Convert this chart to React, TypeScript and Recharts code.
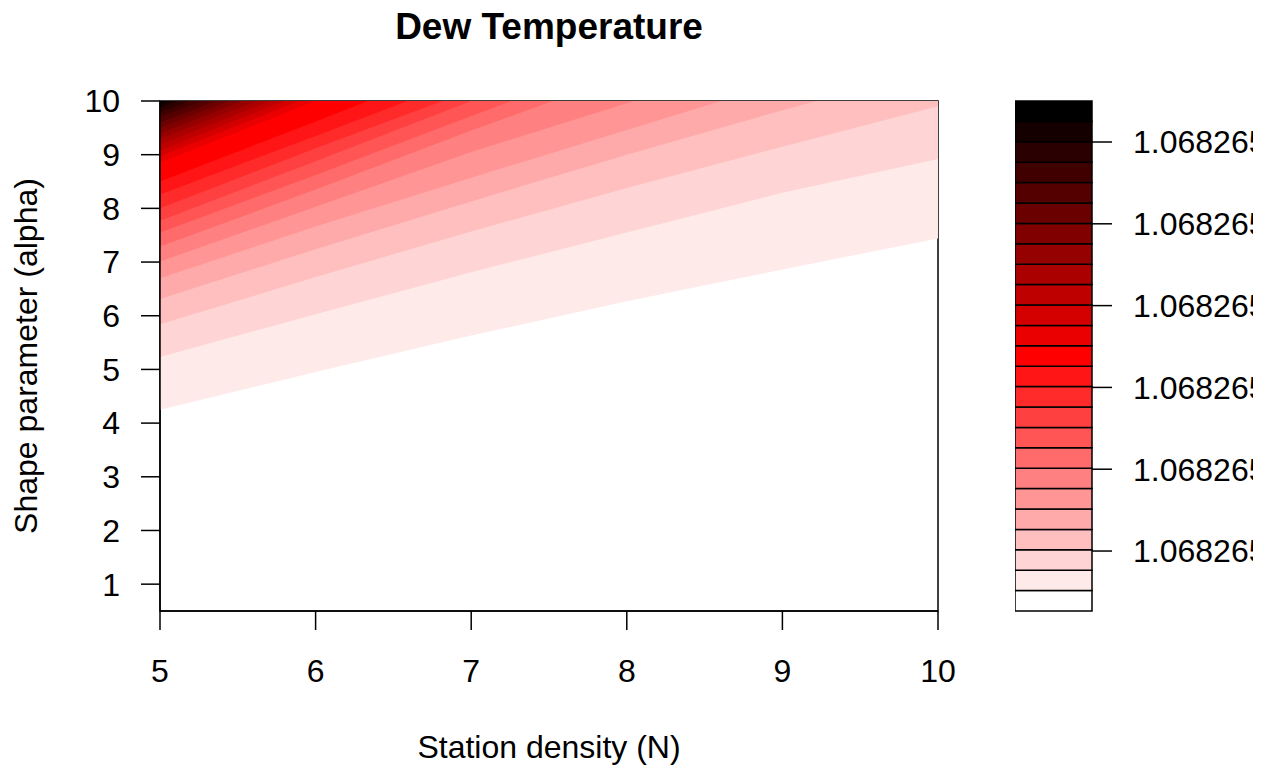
import { ComposedChart, Area, XAxis, YAxis, BarChart, Bar } from 'recharts';

const FONT = '"Liberation Sans", Arial, Helvetica, sans-serif';

// x: station density (N)
const stationDensity = [5, 6, 7, 8, 9, 10];
const xTicks = [5, 6, 7, 8, 9, 10];
const yTicks = [1, 2, 3, 4, 5, 6, 7, 8, 9, 10];

// lower edge (alpha) of filled levels 1..24 at each N; level 0 (white) is the background.
// values above 10 are where the contour has left the top of the plot
const levelEdges: (number | null)[][] = [
  [4.25, 4.95, 5.63, 6.27, 6.86, 7.44],
  [5.23, 6.03, 6.81, 7.55, 8.29, 8.92],
  [5.84, 6.72, 7.57, 8.38, 9.15, 9.9],
  [6.31, 7.24, 8.13, 9.0, 9.83, 10.6],
  [6.7, 7.66, 8.57, 9.46, 10.35, null],
  [7.01, 8.03, 9.05, 9.96, 10.9, null],
  [7.29, 8.35, 9.45, 10.5, null, null],
  [7.55, 8.62, 9.72, 10.8, null, null],
  [7.77, 8.88, 10.0, 11.1, null, null],
  [8.0, 9.12, 10.2, null, null, null],
  [8.26, 9.35, 10.45, null, null, null],
  [8.5, 9.62, 10.75, null, null, null],
  [8.85, 10.0, 11.1, null, null, null],
  [8.97, 10.12, null, null, null, null],
  [9.08, 10.23, null, null, null, null],
  [9.19, 10.33, null, null, null, null],
  [9.3, 10.43, null, null, null, null],
  [9.4, 10.53, null, null, null, null],
  [9.5, 10.63, null, null, null, null],
  [9.6, 10.71, null, null, null, null],
  [9.7, 10.8, null, null, null, null],
  [9.79, 10.9, null, null, null, null],
  [9.88, 11.0, null, null, null, null],
  [9.96, 11.1, null, null, null, null],
];

// white -> red -> black, 25 levels
const levelColors = [
  '#FFFFFF', '#FFEAEA', '#FFD4D4', '#FFBFBF', '#FFAAAA', '#FF9595', '#FF8080', '#FF6A6A', '#FF5555',
  '#FF4040', '#FF2A2A', '#FF1515', '#FF0000', '#EA0000', '#D40000', '#BF0000', '#AA0000', '#950000',
  '#800000', '#6A0000', '#550000', '#400000', '#2A0000', '#150000', '#000000',
];

// colour key
const keyBands = [1, 1, 1, 1, 1, 1, 1, 1, 1, 1, 1, 1, 1, 1, 1, 1, 1, 1, 1, 1, 1, 1, 1, 1, 1];
const keyTicks = [2.94, 6.95, 10.96, 14.97, 18.98, 22.99];
const keyTickLabels = ['1.068265', '1.068265', '1.068265', '1.068265', '1.068265', '1.068265'];

const rows = stationDensity.map((n, i) => {
  const row: Record<string, any> = { n };
  levelEdges.forEach((edge, k) => {
    const v = edge[i];
    row[`lv${k + 1}`] = v == null ? null : [v, 10];
  });
  return row;
});

const keyRow: Record<string, number> = {};
keyBands.forEach((v, i) => {
  keyRow[`k${i}`] = v;
});

const tickStyle = { fontSize: 32, fill: '#000', fontFamily: FONT };

export default function App() {
  return (
    <div style={{ position: 'absolute', left: 0, top: 0, width: 1266, height: 769, overflow: 'hidden', background: '#fff', fontFamily: FONT }}>
      <div style={{ position: 'absolute', left: 0, top: 0 }}>
        <ComposedChart width={1266} height={769} data={rows} margin={{ top: 101, right: 328, bottom: 98, left: 100 }}>
          <XAxis
            dataKey="n"
            type="number"
            domain={[5, 10]}
            ticks={xTicks}
            height={60}
            tickSize={19}
            tickMargin={29}
            tick={tickStyle}
            axisLine={{ stroke: '#000', strokeWidth: 1.5 }}
            tickLine={{ stroke: '#000', strokeWidth: 1.5 }}
          />
          <YAxis
            type="number"
            domain={[0.5, 10]}
            allowDataOverflow
            ticks={yTicks}
            width={60}
            tickSize={19}
            tickMargin={21}
            tick={tickStyle}
            axisLine={{ stroke: '#000', strokeWidth: 1.5 }}
            tickLine={{ stroke: '#000', strokeWidth: 1.5 }}
          />
          {levelEdges.map((_, k) => (
            <Area
              key={k}
              dataKey={`lv${k + 1}`}
              type="linear"
              fill={levelColors[k + 1]}
              fillOpacity={1}
              stroke="none"
              dot={false}
              activeDot={false}
              isAnimationActive={false}
            />
          ))}
          {/* plot box */}
          <rect x={160} y={101} width={778} height={510} fill="none" stroke="#000" strokeWidth={1.5} />
          <text x={549} y={39} textAnchor="middle" fontWeight="bold" fontSize={37} fontFamily={FONT} fill="#000">
            Dew Temperature
          </text>
          <text x={549} y={758} textAnchor="middle" fontSize={32} fontFamily={FONT} fill="#000">
            Station density (N)
          </text>
          <text x={37} y={356} transform="rotate(-90, 37, 356)" textAnchor="middle" fontSize={32} fontFamily={FONT} fill="#000">
            Shape parameter (alpha)
          </text>
        </ComposedChart>
      </div>
      <div style={{ position: 'absolute', left: 1015, top: 0, width: 238, height: 769, overflow: 'hidden' }}>
        <BarChart width={251} height={769} data={[keyRow]} margin={{ top: 101, right: 0, bottom: 158, left: 0 }} barCategoryGap={0} barGap={0}>
          <XAxis hide />
          <YAxis
            orientation="right"
            type="number"
            domain={[0, 25]}
            ticks={keyTicks}
            width={174}
            tickSize={20}
            tickMargin={21}
            axisLine={false}
            tick={tickStyle}
            tickLine={{ stroke: '#000', strokeWidth: 1.5 }}
            tickFormatter={(_v: number, i: number) => keyTickLabels[i]}
          />
          {keyBands.map((_, i) => (
            <Bar key={i} dataKey={`k${i}`} stackId="key" fill={levelColors[i]} stroke="#000" strokeWidth={1.5} isAnimationActive={false} />
          ))}
        </BarChart>
      </div>
    </div>
  );
}
